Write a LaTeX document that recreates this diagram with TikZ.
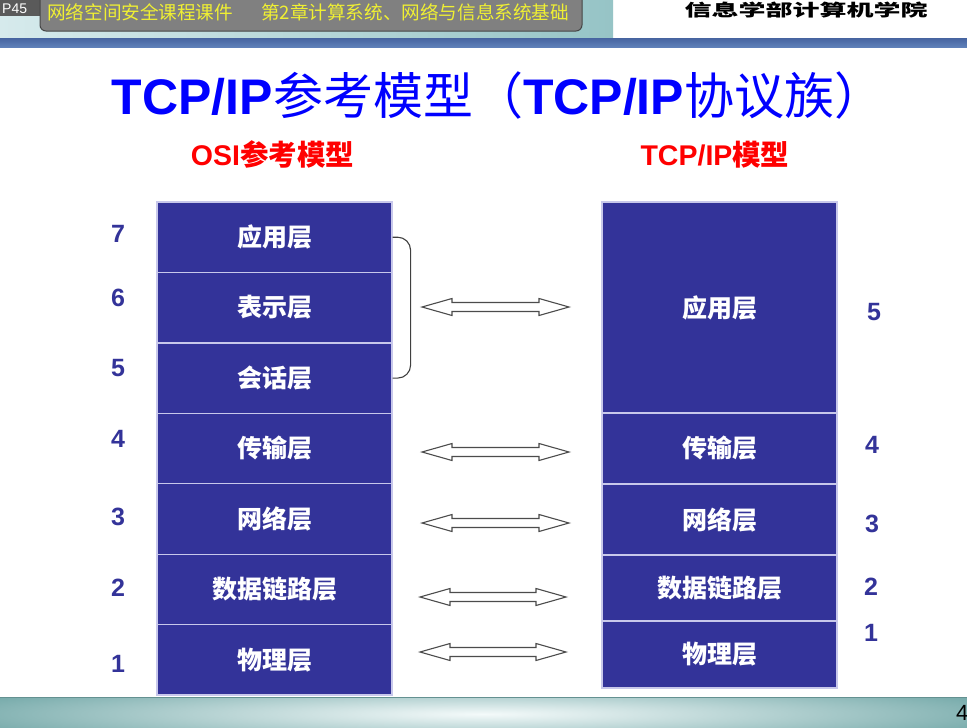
\documentclass[tikz,border=0pt]{standalone}
\usepackage{fontspec}
\setmainfont{Liberation Sans}
\newfontfamily\cjk{Noto Sans CJK SC}

\definecolor{layerblue}{RGB}{51,51,153}
\definecolor{layerline}{RGB}{200,200,235}
\definecolor{titleblue}{RGB}{0,0,255}
\definecolor{headred}{RGB}{255,0,0}
\definecolor{tabgray}{RGB}{90,90,90}
\definecolor{boxgray}{RGB}{128,128,128}
\definecolor{boxedge}{RGB}{70,70,70}
\definecolor{notice}{RGB}{240,240,50}
\definecolor{hdrL}{RGB}{214,234,236}
\definecolor{hdrM}{RGB}{204,228,230}
\definecolor{hdrR}{RGB}{150,196,198}
\definecolor{stripeTop}{RGB}{70,100,160}
\definecolor{stripeMid}{RGB}{22,55,118}
\definecolor{stripeBot}{RGB}{95,128,185}
\definecolor{bandEdge}{RGB}{118,170,170}
\definecolor{bandMid}{RGB}{244,250,250}

% hollow two-headed block arrow: left x, right x, centre y
\newcommand{\layerarrow}[3]{%
  \draw[blockarrow] (#1,#3) -- (#1+30,#3-8.5) -- (#1+30,#3-4.5) -- (#2-30,#3-4.5)
    -- (#2-30,#3-8.5) -- (#2,#3) -- (#2-30,#3+8.5) -- (#2-30,#3+4.5)
    -- (#1+30,#3+4.5) -- (#1+30,#3+8.5) -- cycle;}

\begin{document}
\begin{tikzpicture}[x=1pt,y=-1pt,
  layer/.style={draw=layerline, fill=layerblue, line width=1.2pt, text=white,
    minimum width=235pt, inner sep=0pt, font=\cjk\bfseries\fontsize{25}{27}\selectfont},
  num/.style={text=layerblue, font=\bfseries\fontsize{25}{27}\selectfont, inner sep=0pt},
  heading/.style={text=headred, font=\bfseries\fontsize{28.5}{30}\selectfont, anchor=base, inner sep=0pt},
  notice/.style={text=notice, font=\cjk\fontsize{18.6}{20}\selectfont, anchor=west, inner sep=0pt},
  blockarrow/.style={draw=black!70, fill=white, line width=1.1pt, line join=miter},
  bracket/.style={draw=black!75, line width=1.1pt, rounded corners=13pt}
]
\useasboundingbox (0,0) rectangle (967,728);
\fill[white] (0,0) rectangle (967,728);

% ---- header band
\shade[left color=hdrL, middle color=hdrM, right color=hdrR] (0,0) rectangle (613,38);
\fill[tabgray] (0,-5) rectangle (44,16);
\node[anchor=base west, text=white, font=\fontsize{14}{16}\selectfont, inner sep=0pt] (page) at (2,13) {P45};
\draw[fill=boxgray, draw=boxedge, line width=1pt, rounded corners=6pt] (40,-10) rectangle (582,31);
\node[notice] (course) at (47,12.5) {网络空间安全课程课件};
\node[notice] (chapter) at (261,12.5) {第2章计算系统、网络与信息系统基础};
\node[inner sep=0pt, font=\cjk\bfseries\fontsize{27}{29}\selectfont] (school) at (806,10)
  {\scalebox{1}[0.62]{信息学部计算机学院}};
\shade[top color=stripeTop, middle color=stripeMid, bottom color=stripeBot] (0,38) rectangle (967,47);

% ---- footer band
\begin{scope}
  \clip (0,697) rectangle (967,728);
  \fill[bandEdge] (0,697) rectangle (967,728);
  \shade[inner color=bandMid, outer color=bandEdge] (483,714) ellipse (560 and 34);
\end{scope}
\draw[bandEdge!85!black, line width=0.8pt] (0,697) -- (967,697);
\node[anchor=west, inner sep=0pt, font=\fontsize{22}{24}\selectfont] (slideno) at (956,713) {4};

% ---- titles
\node[anchor=base, inner sep=0pt, text=titleblue, font=\bfseries\fontsize{50}{52}\selectfont] (title) at (498,114)
  {TCP/IP{\cjk\mdseries 参考模型（}TCP/IP{\cjk\mdseries 协议族）}};
\node[heading] (osihead) at (272.5,165) {OSI{\cjk 参考模型}};
\node[heading] (tcphead) at (715,165) {TCP/IP{\cjk 模型}};

% ---- OSI seven layers
\node[layer, minimum height=70.4pt] (osi7) at (274.5,237.2) {应用层};
\node[layer, minimum height=70.4pt] (osi6) at (274.5,307.6) {表示层};
\node[layer, minimum height=70.4pt] (osi5) at (274.5,378.1) {会话层};
\node[layer, minimum height=70.4pt] (osi4) at (274.5,448.5) {传输层};
\node[layer, minimum height=70.4pt] (osi3) at (274.5,518.9) {网络层};
\node[layer, minimum height=70.4pt] (osi2) at (274.5,589.4) {数据链路层};
\node[layer, minimum height=70.4pt] (osi1) at (274.5,659.8) {物理层};

% ---- TCP/IP five layers
\node[layer, minimum height=211pt] (tcp5) at (719.5,307.5) {应用层};
\node[layer, minimum height=71pt] (tcp4) at (719.5,448.5) {传输层};
\node[layer, minimum height=71pt] (tcp3) at (719.5,519.5) {网络层};
\node[layer, minimum height=66pt] (tcp2) at (719.5,588) {数据链路层};
\node[layer, minimum height=67pt] (tcp1) at (719.5,654.5) {物理层};

% ---- layer numbers
\node[num] (n7) at (118,234) {7};
\node[num] (n6) at (118,298) {6};
\node[num] (n5) at (118,368) {5};
\node[num] (n4) at (118,439) {4};
\node[num] (n3) at (118,517) {3};
\node[num] (n2) at (118,588) {2};
\node[num] (n1) at (118,664) {1};
\node[num] (m5) at (874,312) {5};
\node[num] (m4) at (872,445) {4};
\node[num] (m3) at (872,524) {3};
\node[num] (m2) at (871,587) {2};
\node[num] (m1) at (871,633) {1};

% ---- bracket over the three upper OSI layers
\draw[bracket] (osi7.east) -- ++(18,0) |- (osi5.east);

% ---- correspondence arrows
\layerarrow{422}{569}{307}
\layerarrow{422}{569}{452}
\layerarrow{422}{569}{523}
\layerarrow{420}{566}{597}
\layerarrow{420}{566}{652}
\end{tikzpicture}
\end{document}
